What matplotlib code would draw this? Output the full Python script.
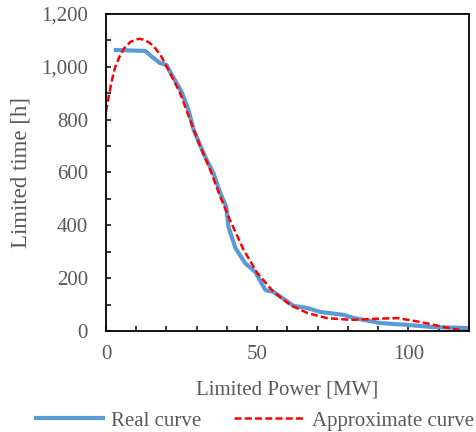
import matplotlib
matplotlib.use("Agg")
import matplotlib.pyplot as plt
from matplotlib.ticker import MultipleLocator, FuncFormatter

plt.rcParams["font.family"] = ["Liberation Serif", "DejaVu Serif"]

GRAY = "#595959"
BLUE = "#5b9bd5"
RED = "#ff0000"

# Real curve
real_x = [2.6, 8, 13, 15.2, 17.9, 20, 21.8, 25, 27.3, 29, 32.8, 35.5, 37.8,
          39.8, 40.5, 42.8, 46, 49.4, 52.7, 55.4, 59.3, 62, 66.6, 70.9, 78.6,
          82, 90.8, 99.7, 108, 120]
real_y = [1064, 1062, 1060, 1038, 1014, 1007, 969, 905, 836, 761, 659, 598,
          522, 469, 394, 314, 257, 223, 155, 148, 117, 95, 87, 72, 61, 49, 30,
          23, 15, 11]

# Approximate curve
approx_x = [0, 1, 2, 3, 4.6, 6, 8, 10, 11, 12, 14, 15.6, 18, 21.2, 24.5,
            27.8, 31.2, 34.5, 37.8, 41, 45.5, 50, 55.4, 61, 66.6, 73, 80.9,
            88.5, 96.4, 104, 111.7, 120]
approx_y = [830, 895, 952, 998, 1042, 1070, 1094, 1104, 1106, 1104, 1094,
            1080, 1045, 976, 901, 799, 697, 609, 508, 420, 307, 220, 148, 98,
            68, 49, 42, 46, 49, 34, 15, -3]

fig = plt.figure(figsize=(4.76, 4.32), dpi=100)
ax = fig.add_axes([0.2227, 0.2338, 0.7623, 0.7338])

ax.plot(real_x, real_y, color=BLUE, lw=3.0, label="Real curve",
        solid_capstyle="butt")
ax.plot(approx_x, approx_y, color=RED, lw=1.8, dashes=(2.8, 1.3),
        label="Approximate curve")

ax.set_xlim(0, 120)
ax.set_ylim(0, 1200)
ax.xaxis.set_major_locator(MultipleLocator(50))
ax.xaxis.set_minor_locator(MultipleLocator(10))
ax.yaxis.set_major_locator(MultipleLocator(200))
ax.yaxis.set_minor_locator(MultipleLocator(100))
ax.yaxis.set_major_formatter(FuncFormatter(lambda v, p: f"{int(v):,}"))

for s in ax.spines.values():
    s.set_linewidth(1.3)
    s.set_color("black")
ax.tick_params(which="both", direction="in", length=3.8, width=1.1,
               colors="black", labelcolor=GRAY, labelsize=15)
ax.tick_params(axis="y", which="major", pad=13)
ax.tick_params(axis="x", which="major", pad=10)

ax.set_xlabel("Limited Power [MW]", fontsize=15, color=GRAY, labelpad=12)
ax.set_ylabel("Limited time [h]", fontsize=16.5, color=GRAY, labelpad=7)

leg = fig.legend(loc="center", bbox_to_anchor=(0.533, 0.026), ncol=2,
                 frameon=False, fontsize=15, handlelength=3.4,
                 handletextpad=0.3, columnspacing=1.6)
for t in leg.get_texts():
    t.set_color(GRAY)

fig.savefig("out.png", dpi=100)
